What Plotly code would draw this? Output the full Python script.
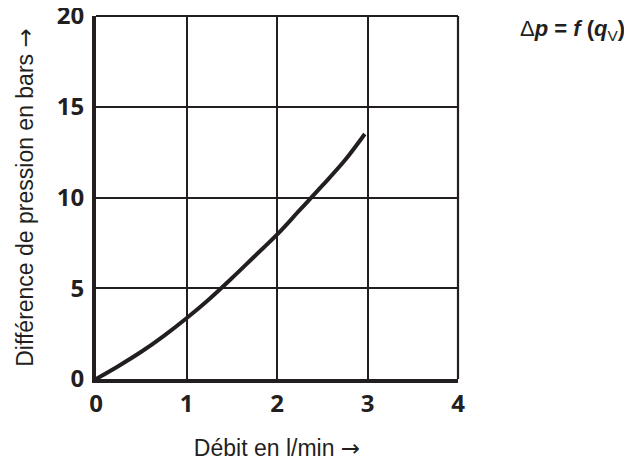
import plotly.graph_objects as go

# Data
debit = [0, 0.25, 0.5, 0.75, 1.0, 1.25, 1.5, 1.75, 2.0, 2.25, 2.5, 2.75, 2.97]
delta_p = [0, 0.72, 1.5, 2.38, 3.35, 4.4, 5.55, 6.75, 7.95, 9.3, 10.65, 12.05, 13.5]

x_ticks = [0, 1, 2, 3, 4]
y_ticks = [0, 5, 10, 15, 20]

arrow = '<span style="font-family:DejaVu Sans">→</span>'
x_title = "Débit en l/min " + arrow
y_title = "Différence de pression en bars " + arrow
formula = "Δ<b><i>p</i> = <i>f</i> (<i>q</i></b><sub>V</sub><b>)</b>"

ink = "#231f20"

fig = go.Figure()
fig.add_trace(go.Scatter(
    x=debit, y=delta_p, mode="lines",
    line=dict(color=ink, width=4, shape="spline", smoothing=1.0),
    hoverinfo="skip", showlegend=False,
))

tick_font = dict(family="Open Sans, Liberation Sans, sans-serif", size=24, color=ink, weight="bold")
title_font = dict(family="Liberation Sans, Arial, sans-serif", size=23, color=ink)

fig.update_xaxes(
    range=[0, 4], tickvals=x_ticks, ticktext=[str(v) for v in x_ticks],
    showgrid=True, gridcolor=ink, gridwidth=1.6, zeroline=False,
    showline=True, linecolor=ink, linewidth=4,
    ticks="", tickfont=tick_font, ticklabelstandoff=0,
    ticklabeloverflow="allow", automargin=False,
    title=dict(text=x_title, font=title_font, standoff=23),
    fixedrange=True,
)
fig.update_yaxes(
    range=[0, 20], tickvals=y_ticks, ticktext=[str(v) for v in y_ticks],
    showgrid=True, gridcolor=ink, gridwidth=1.6, zeroline=False,
    showline=True, linecolor=ink, linewidth=4,
    ticks="", tickfont=tick_font, ticklabelstandoff=3,
    ticklabeloverflow="allow", automargin=False,
    title=dict(text=y_title, font=title_font, standoff=18),
    fixedrange=True,
)

# top and right frame lines
fig.add_shape(type="line", xref="x domain", yref="y domain", x0=0, x1=1, y0=1, y1=1,
              line=dict(color=ink, width=2.2))
fig.add_shape(type="line", xref="x domain", yref="y domain", x0=1, x1=1, y0=0, y1=1,
              line=dict(color=ink, width=2.2))

fig.add_annotation(
    text=formula, xref="paper", yref="paper", x=1.165, y=0.962,
    xanchor="left", yanchor="middle", showarrow=False,
    font=dict(family="Liberation Sans, Arial, sans-serif", size=22, color=ink),
)

fig.update_layout(
    width=632, height=457,
    margin=dict(l=88, r=182, t=8, b=86),
    paper_bgcolor="white", plot_bgcolor="white",
)

fig.write_html("out.html")
